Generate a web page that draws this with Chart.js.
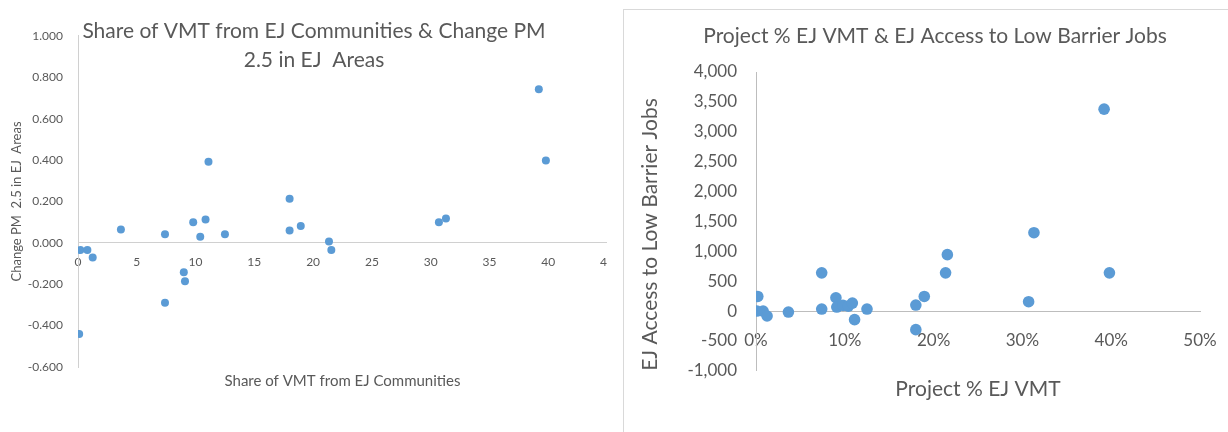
<!DOCTYPE html>
<html>
<head>
<meta charset="utf-8">
<script src="https://cdn.jsdelivr.net/npm/chart.js@4.4.1/dist/chart.umd.min.js"></script>
<style>
  html, body { margin: 0; padding: 0; background: #fff; overflow: hidden; }
  body { width: 1228px; height: 432px; position: relative; }
  #leftBox { position: absolute; left: 0; top: 0; width: 607px; height: 432px; overflow: hidden; }
  #rightBox { position: absolute; left: 623px; top: 9px; width: 640px; height: 440px;
              border-left: 1px solid #d9d9d9; border-top: 1px solid #d9d9d9; }
</style>
</head>
<body>
<div id="leftBox"><canvas id="pmChart" width="628" height="432"></canvas></div>
<div id="rightBox"><canvas id="jobsChart" width="624" height="422"></canvas></div>
<script>
// share of project VMT from EJ communities (percent), one entry per project
var vmtShare   = [0.1, 0.2, 0.8, 1.25, 3.65, 7.4, 7.4, 9.0, 9.1, 9.8, 10.4, 10.85,
                  11.1, 12.5, 18.0, 18.0, 18.95, 21.35, 21.55, 30.7, 31.3, 39.2, 39.8];
// change in PM 2.5 in EJ areas
var pmChange   = [-0.44, -0.035, -0.035, -0.071, 0.065, 0.042, -0.29, -0.142, -0.185, 0.1, 0.029, 0.113,
                  0.392, 0.042, 0.213, 0.06, 0.082, 0.006, -0.035, 0.1, 0.118, 0.742, 0.398];
// EJ access to low barrier jobs
var jobsAccess = [0, 244, 0, -83, -17, 639, 33, 222, 67, 94, 83, 133,
                  -144, 33, 100, -311, 244, 639, 944, 156, 1311, 3378, 639];

var shareTicks = [0, 5, 10, 15, 20, 25, 30, 35, 40, 45];
var pmTicks    = [-0.6, -0.4, -0.2, 0, 0.2, 0.4, 0.6, 0.8, 1.0];
var pctTicks   = [0, 10, 20, 30, 40, 50];
var jobsTicks  = [-1000, -500, 0, 500, 1000, 1500, 2000, 2500, 3000, 3500, 4000];

var blue = '#5B9BD5';
var grey = '#595959';
Chart.defaults.font.family = 'Lato';
Chart.defaults.color = grey;

function fixedTicks(list) {
    return function (axis) {
        axis.ticks = list.map(function (v) { return { value: v }; });
    };
}

function points(xs, ys) {
    return xs.map(function (x, i) { return { x: x, y: ys[i] }; });
}

// left chart: share of VMT vs change PM 2.5
new Chart(document.getElementById('pmChart'), {
    type: 'scatter',
    data: {
        datasets: [{
            data: points(vmtShare, pmChange),
            xAxisID: 'x',
            yAxisID: 'y',
            backgroundColor: blue,
            borderWidth: 0,
            pointRadius: 4
        }]
    },
    options: {
        responsive: false,
        animation: false,
        layout: { padding: { left: 21, right: 21, top: 0, bottom: 42 } },
        plugins: {
            legend: { display: false },
            tooltip: { enabled: false },
            title: {
                display: true,
                text: ['Share of VMT from EJ Communities & Change PM', '2.5 in EJ  Areas'],
                color: grey,
                font: { size: 21, weight: 'normal', lineHeight: 1.38 },
                padding: { top: 17, bottom: -39 }
            }
        },
        scales: {
            x: {
                type: 'linear',
                position: { y: 0 },
                min: shareTicks[0],
                max: shareTicks[shareTicks.length - 1],
                afterBuildTicks: fixedTicks(shareTicks),
                grid: { display: false, drawTicks: false },
                border: { display: true, color: '#d0d0d0', width: 1 },
                ticks: { autoSkip: false, maxRotation: 0, padding: 12, font: { size: 12 } }
            },
            xt: {
                axis: 'x',
                type: 'linear',
                position: 'bottom',
                min: 0,
                max: 1,
                grid: { display: false, drawTicks: false },
                border: { display: false },
                ticks: { display: false },
                title: { display: true, text: 'Share of VMT from EJ Communities',
                         font: { size: 15 }, padding: { top: 5, bottom: 0 } }
            },
            y: {
                type: 'linear',
                position: 'left',
                min: pmTicks[0],
                max: pmTicks[pmTicks.length - 1],
                afterBuildTicks: fixedTicks(pmTicks),
                afterFit: function (s) { s.width = 57; },
                grid: { display: false, drawTicks: false },
                border: { display: true, color: '#d0d0d0', width: 1 },
                ticks: {
                    padding: 15,
                    font: { size: 12 },
                    callback: function (v) { return v.toFixed(3); }
                },
                title: { display: true, text: 'Change PM  2.5 in EJ  Areas',
                         font: { size: 13 }, padding: { top: -12, bottom: 0 } }
            }
        }
    }
});

// right chart: project % EJ VMT vs EJ access to low barrier jobs
new Chart(document.getElementById('jobsChart'), {
    type: 'scatter',
    data: {
        datasets: [{
            data: points(vmtShare, jobsAccess),
            xAxisID: 'x',
            yAxisID: 'y',
            backgroundColor: blue,
            borderWidth: 0,
            pointRadius: 5.8
        }]
    },
    options: {
        responsive: false,
        animation: false,
        layout: { padding: { left: 46, right: 48, top: 0, bottom: 30 } },
        plugins: {
            legend: { display: false },
            tooltip: { enabled: false },
            title: {
                display: true,
                text: 'Project % EJ VMT & EJ Access to Low Barrier Jobs',
                color: grey,
                font: { size: 21, weight: 'normal', lineHeight: 1.2 },
                padding: { top: 14, bottom: 22.8 }
            }
        },
        scales: {
            x: {
                type: 'linear',
                position: { y: 0 },
                min: pctTicks[0],
                max: pctTicks[pctTicks.length - 1],
                afterBuildTicks: fixedTicks(pctTicks),
                grid: { display: false, drawTicks: false },
                border: { display: true, color: '#bdbdbd', width: 1 },
                ticks: {
                    autoSkip: false, maxRotation: 0, padding: 19, font: { size: 17 },
                    callback: function (v) { return v + '%'; }
                }
            },
            xt: {
                axis: 'x',
                type: 'linear',
                position: 'bottom',
                min: 0,
                max: 1,
                grid: { display: false, drawTicks: false },
                border: { display: false },
                ticks: { display: false },
                title: { display: true, text: 'Project % EJ VMT',
                         font: { size: 21 }, padding: { top: 6, bottom: 0 } }
            },
            y: {
                type: 'linear',
                position: 'left',
                min: jobsTicks[0],
                max: jobsTicks[jobsTicks.length - 1],
                afterBuildTicks: fixedTicks(jobsTicks),
                afterFit: function (s) { s.width = 86; },
                grid: { display: false, drawTicks: false },
                border: { display: true, color: '#bdbdbd', width: 1 },
                ticks: {
                    padding: 19,
                    font: { size: 17 },
                    callback: function (v) { return v.toLocaleString('en-US'); }
                },
                title: { display: true, text: 'EJ Access to Low Barrier Jobs', align: 'start',
                         font: { size: 21 }, padding: { top: -32, bottom: 0 } }
            }
        }
    }
});
</script>
</body>
</html>
